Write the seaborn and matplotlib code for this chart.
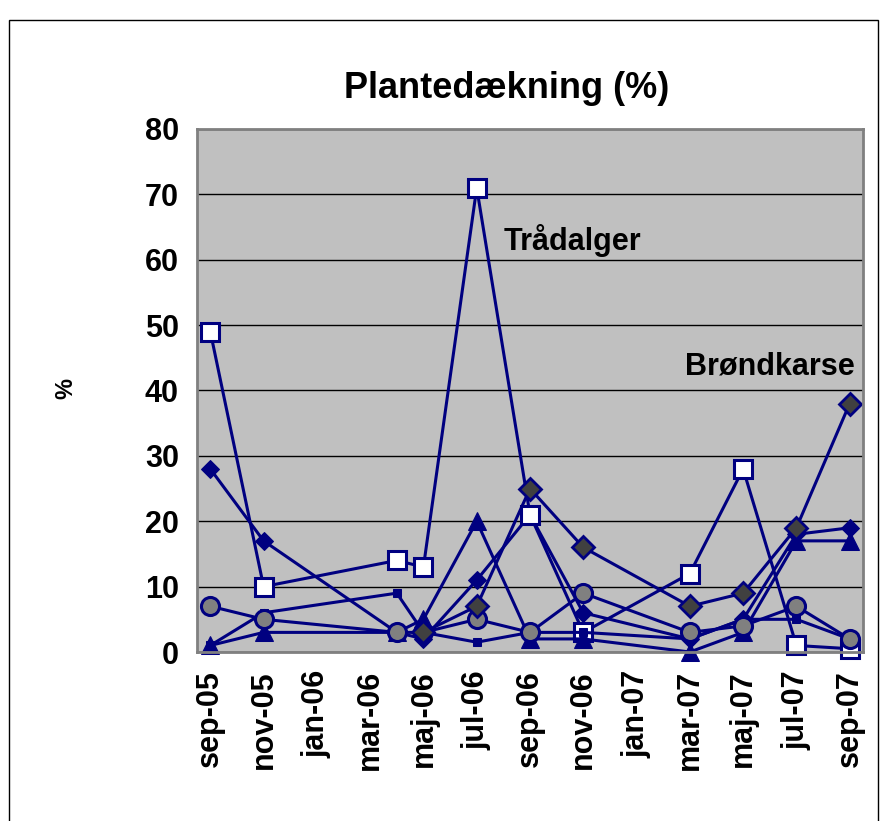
import pandas as pd
import matplotlib.pyplot as plt
import matplotlib.patches as mpatches
import seaborn as sns

sns.set_style('white')
plt.rcParams['font.family'] = ['Liberation Sans', 'DejaVu Sans']
plt.rcParams['font.weight'] = 'bold'
plt.rcParams['text.color'] = 'black'
plt.rcParams['xtick.color'] = 'black'
plt.rcParams['ytick.color'] = 'black'

NAVY = '#000080'

# Sampling dates (month of each survey)
dates = ['2005-09', '2005-11', '2006-04', '2006-05', '2006-07', '2006-09',
         '2006-11', '2007-03', '2007-05', '2007-07', '2007-09']

# Tick labels (every second month)
tick_labels = ['sep-05', 'nov-05', 'jan-06', 'mar-06', 'maj-06', 'jul-06', 'sep-06',
               'nov-06', 'jan-07', 'mar-07', 'maj-07', 'jul-07', 'sep-07']

# Cover (%) per series, None = not recorded
navy_diamond = [28, 17, 3, 2, 11, 21, 6, 2, 5, 18, 19]
tradalger = [49, 10, 14, 13, 71, 21, 3, 12, 28, 1, 0.5]
triangle = [1, 3, 3, 5, 20, 2, 2, 0, 3, 17, 17]
small_sq = [1, 6, 9, 3, 1.5, 3, 3, 2, 5, 5, 2]
circle = [7, 5, 3, 3, 5, 3, 9, 3, 4, 7, 2]
brondkarse = [None, None, None, 3, 7, 25, 16, 7, 9, 19, 38]

start = pd.Period('2005-09', freq='M')
month_idx = [(pd.Period(d, freq='M') - start).n for d in dates]

series = [
    ('navy_diamond', navy_diamond, dict(marker='D', markersize=9, markerfacecolor=NAVY, markeredgecolor=NAVY)),
    ('tradalger', tradalger, dict(marker='s', markersize=12.5, markerfacecolor='white', markeredgecolor=NAVY, markeredgewidth=2.2)),
    ('triangle', triangle, dict(marker='^', markersize=13, markerfacecolor=NAVY, markeredgecolor=NAVY)),
    ('small_sq', small_sq, dict(marker='s', markersize=5.5, markerfacecolor=NAVY, markeredgecolor=NAVY)),
    ('circle', circle, dict(marker='o', markersize=13, markerfacecolor='#808080', markeredgecolor=NAVY, markeredgewidth=2.2)),
    ('brondkarse', brondkarse, dict(marker='D', markersize=11, markerfacecolor='#404040', markeredgecolor=NAVY, markeredgewidth=2)),
]

fig = plt.figure(figsize=(8.83, 8.21), dpi=100)
ax = fig.add_axes([197 / 883, 1 - 652 / 821, 666 / 883, 523 / 821])
ax.set_facecolor('#C0C0C0')

for name, vals, style in series:
    df = pd.DataFrame({'m': month_idx, 'v': vals}).dropna()
    sns.lineplot(data=df, x='m', y='v', ax=ax, color=NAVY, linewidth=2.2, clip_on=False, **style)

ax.set_xlim(-0.5, 24.5)
ax.set_ylim(0, 80)
ax.set_yticks(range(0, 81, 10))
ax.grid(axis='y', color='black', linewidth=1)
ax.set_axisbelow(True)

ax.set_xticks([k - 0.5 for k in range(0, 25, 2)])
ax.set_xticklabels([])
ax.set_xticks(list(range(0, 25, 2)), minor=True)
ax.set_xticklabels(tick_labels, minor=True, rotation=90, fontsize=22, fontweight='bold')
ax.tick_params(axis='x', which='minor', length=0, pad=13)
ax.tick_params(axis='x', which='major', direction='out', length=7, width=1, color='black')
ax.tick_params(axis='y', direction='out', length=7, width=1, color='black', pad=6, labelsize=22)
for lab in ax.get_yticklabels():
    lab.set_fontweight('bold')

for side in ['left', 'bottom', 'top', 'right']:
    ax.spines[side].set_color('#808080')
    ax.spines[side].set_linewidth(2)

ax.set_xlabel('')
ax.set_ylabel('')

ax.text(11.0, 63, 'Trådalger', fontsize=22, fontweight='bold', va='center', ha='left')
ax.text(24.2, 43.7, 'Brøndkarse', fontsize=22, fontweight='bold', va='center', ha='right')

fig.text(0.5736, 1 - 88 / 821, 'Plantedækning (%)', fontsize=26, fontweight='bold', ha='center', va='center')
fig.text(66 / 883, 1 - 388 / 821, '%', fontsize=17, fontweight='bold', rotation=90, ha='center', va='center')

fig.patches.append(mpatches.Rectangle((9 / 883, -0.05), 869 / 883, 1.05 - 20 / 821, transform=fig.transFigure,
                                      fill=False, edgecolor='black', linewidth=1))

fig.savefig('out.png', dpi=100)
